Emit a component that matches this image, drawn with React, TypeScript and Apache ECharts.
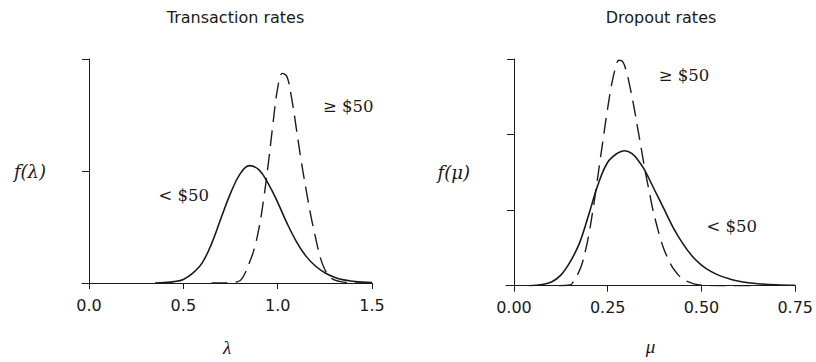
import React, { useEffect, useRef } from "react";
import * as echarts from "echarts";

// Transaction rates (lambda) densities
const lamLowX = [0.35, 0.40, 0.45, 0.50, 0.55, 0.60, 0.65, 0.70, 0.75, 0.80, 0.85, 0.90, 0.95, 1.00, 1.05, 1.10, 1.15, 1.20, 1.25, 1.30, 1.35, 1.40, 1.45, 1.50];
const lamLowY = [0.0, 0.01, 0.03, 0.08, 0.22, 0.45, 0.88, 1.45, 2.0, 2.43, 2.62, 2.53, 2.22, 1.80, 1.33, 0.92, 0.60, 0.38, 0.23, 0.13, 0.07, 0.04, 0.02, 0.01];
const lamHighX = [0.65, 0.70, 0.75, 0.80, 0.825, 0.85, 0.875, 0.90, 0.925, 0.95, 0.975, 1.00, 1.025, 1.05, 1.075, 1.10, 1.125, 1.15, 1.175, 1.20, 1.225, 1.25, 1.275, 1.30, 1.35, 1.40, 1.45, 1.50];
const lamHighY = [0.0, 0.0, 0.01, 0.05, 0.2, 0.45, 0.75, 1.2, 1.85, 2.65, 3.55, 4.35, 4.68, 4.6, 4.1, 3.42, 2.72, 2.1, 1.52, 1.03, 0.58, 0.3, 0.15, 0.07, 0.02, 0.0, 0.0, 0.0];

// Dropout rates (mu) densities
const muLowX = [0.04, 0.075, 0.10, 0.125, 0.15, 0.175, 0.20, 0.225, 0.25, 0.275, 0.295, 0.315, 0.335, 0.35, 0.375, 0.40, 0.425, 0.45, 0.475, 0.50, 0.525, 0.55, 0.575, 0.60, 0.625, 0.65, 0.70, 0.75];
const muLowY = [0.0, 0.05, 0.15, 0.42, 0.95, 1.7, 2.85, 4.05, 4.9, 5.25, 5.36, 5.24, 4.9, 4.55, 3.8, 3.05, 2.3, 1.68, 1.18, 0.82, 0.57, 0.39, 0.27, 0.18, 0.12, 0.08, 0.04, 0.02];
const muHighX = [0.12, 0.15, 0.16, 0.17, 0.18, 0.19, 0.20, 0.21, 0.22, 0.23, 0.24, 0.25, 0.26, 0.27, 0.28, 0.29, 0.30, 0.31, 0.32, 0.33, 0.34, 0.35, 0.36, 0.37, 0.38, 0.39, 0.40, 0.41, 0.42, 0.43, 0.44, 0.45, 0.46, 0.48, 0.50, 0.55, 0.60, 0.65];
const muHighY = [0.0, 0.03, 0.2, 0.45, 0.8, 1.35, 2.05, 2.95, 3.95, 5.0, 6.05, 7.05, 7.95, 8.6, 8.95, 8.9, 8.5, 7.85, 7.1, 6.25, 5.4, 4.55, 3.8, 3.05, 2.45, 1.9, 1.45, 1.1, 0.8, 0.58, 0.4, 0.27, 0.18, 0.07, 0.02, 0.0, 0.0, 0.0];

// Axis ticks
const lamTicks = [0, 0.5, 1.0, 1.5];
const muTicks = [0, 0.25, 0.5, 0.75];
const titles = ["Transaction rates", "Dropout rates"];
const lowLabel = "< $50";
const highLabel = "≥ $50";

const INK = "#1a1a1a";
const SANS = "DejaVu Sans";
const SERIF = "DejaVu Serif";

const pairs = (xs: number[], ys: number[]) => xs.map((x, i) => [x, ys[i]]);

export default function App() {
  const ref = useRef<HTMLDivElement>(null);
  useEffect(() => {
    if (!ref.current) return;
    const chart = echarts.init(ref.current, null, { renderer: "svg" });

    const xAxisBase = (ticks: number[], digits: number) => ({
      type: "value" as const,
      splitLine: { show: false },
      axisLine: { show: true, onZero: true, lineStyle: { color: INK, width: 1 } },
      axisTick: { show: true, length: 6, customValues: ticks, lineStyle: { color: INK } },
      axisLabel: {
        show: true,
        customValues: ticks,
        formatter: (v: number) => v.toFixed(digits),
        fontFamily: SANS,
        fontSize: 16,
        color: INK,
        margin: 14,
      },
      nameLocation: "middle" as const,
      nameGap: 55,
      nameTextStyle: { fontFamily: "Liberation Serif", fontStyle: "italic", fontSize: 19, color: INK },
    });

    const yAxisBase = (max: number, interval: number, name: string) => ({
      type: "value" as const,
      min: 0,
      max,
      interval,
      splitLine: { show: false },
      axisLine: { show: true, onZero: true, lineStyle: { color: INK, width: 1 } },
      axisTick: { show: true, length: 7, lineStyle: { color: INK } },
      axisLabel: { show: false },
      name,
      nameLocation: "middle" as const,
      nameRotate: 0,
      nameGap: 36,
      nameTextStyle: { fontFamily: SERIF, fontStyle: "italic", fontSize: 18, color: INK, padding: [6, 0, 0, 0] },
    });

    const textStyle = { fontFamily: SERIF, fontSize: 16.5, fill: INK };

    chart.setOption({
      animation: false,
      backgroundColor: "#ffffff",
      title: [
        { text: titles[0], left: 230.5, top: 4, textAlign: "center", textStyle: { fontFamily: SANS, fontSize: 16, fontWeight: "normal", color: INK } },
        { text: titles[1], left: 656, top: 4, textAlign: "center", textStyle: { fontFamily: SANS, fontSize: 16, fontWeight: "normal", color: INK } },
      ],
      grid: [
        { left: 82, top: 59, width: 290, height: 226.7 },
        { left: 506, top: 59, width: 291.3, height: 226.7 },
      ],
      xAxis: [
        { ...xAxisBase(lamTicks, 1), gridIndex: 0, min: -0.0371, max: 1.5, name: "λ" },
        { ...xAxisBase(muTicks, 2), gridIndex: 1, min: -0.0212, max: 0.75, name: "μ", nameGap: 51 },
      ],
      yAxis: [
        { ...yAxisBase(5, 2.5, "f(λ)"), gridIndex: 0 },
        { ...yAxisBase(9, 3, "f(μ)"), gridIndex: 1 },
      ],
      series: [
        {
          name: "λ < $50", type: "line", xAxisIndex: 0, yAxisIndex: 0, data: pairs(lamLowX, lamLowY),
          showSymbol: false, symbol: "none", smooth: 0.4, lineStyle: { color: INK, width: 1.6, type: "solid" },
        },
        {
          name: "λ ≥ $50", type: "line", xAxisIndex: 0, yAxisIndex: 0, data: pairs(lamHighX, lamHighY),
          showSymbol: false, symbol: "none", smooth: 0.4, lineStyle: { color: INK, width: 1.4, type: [16, 8] },
        },
        {
          name: "μ < $50", type: "line", xAxisIndex: 1, yAxisIndex: 1, data: pairs(muLowX, muLowY),
          showSymbol: false, symbol: "none", smooth: 0.4, lineStyle: { color: INK, width: 1.6, type: "solid" },
        },
        {
          name: "μ ≥ $50", type: "line", xAxisIndex: 1, yAxisIndex: 1, data: pairs(muHighX, muHighY),
          showSymbol: false, symbol: "none", smooth: 0.4, lineStyle: { color: INK, width: 1.4, type: [16, 8] },
        },
      ],
      graphic: [
        { type: "text", x: 183.7, y: 195, style: { ...textStyle, text: lowLabel, align: "center", verticalAlign: "middle" } },
        { type: "text", x: 348.3, y: 106, style: { ...textStyle, text: highLabel, align: "center", verticalAlign: "middle" } },
        { type: "text", x: 684, y: 75, style: { ...textStyle, text: highLabel, align: "center", verticalAlign: "middle" } },
        { type: "text", x: 731.7, y: 226.5, style: { ...textStyle, text: lowLabel, align: "center", verticalAlign: "middle" } },
      ],
    });
    return () => chart.dispose();
  }, []);

  return <div ref={ref} style={{ position: "absolute", left: 0, top: 0, width: 816, height: 362 }} />;
}
